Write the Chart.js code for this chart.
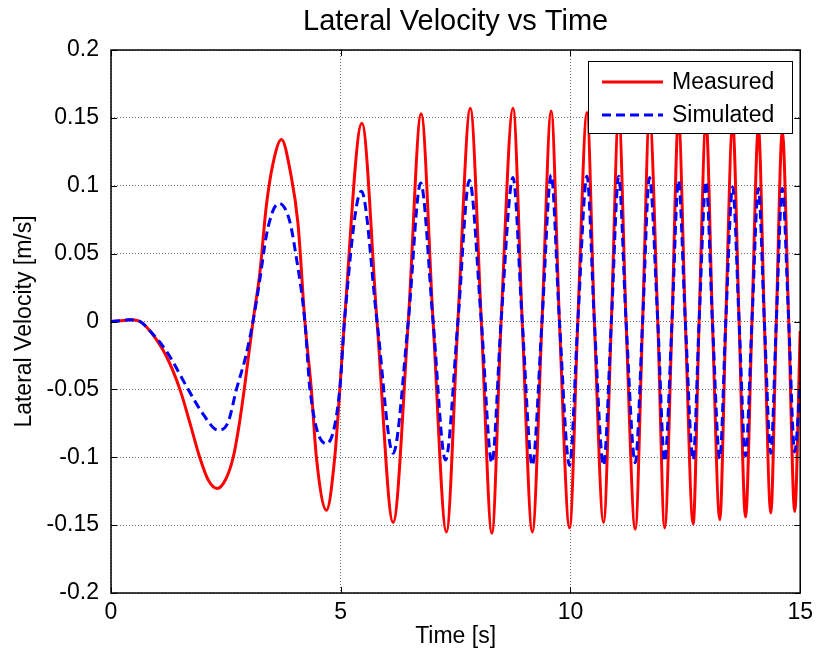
<!DOCTYPE html>
<html>
<head>
<meta charset="utf-8">
<title>Lateral Velocity vs Time</title>
<script src="https://cdn.jsdelivr.net/npm/chart.js@4/dist/chart.umd.min.js"></script>
<style>
  html, body { margin: 0; padding: 0; background: #fff; }
  #wrap { width: 819px; height: 666px; }
</style>
</head>
<body>
<div id="wrap"><canvas id="chart1" width="819" height="666"></canvas></div>
<script>
// Measured lateral velocity [m/s] over time [s]
var measuredTime = [0, 0.2, 0.4, 0.6, 0.85, 1.21, 1.5, 1.72, 1.93, 2.12, 2.31, 2.5, 2.66, 2.78, 2.9, 3.09,
  3.24, 3.38, 3.53, 3.71, 3.91, 4.07, 4.22, 4.36, 4.47, 4.69, 4.87, 4.98, 5.08, 5.46, 5.79, 6.14, 6.47, 6.75, 7.01,
  7.30, 7.55, 7.82, 8.06, 8.29, 8.49, 8.75, 8.95, 9.17, 9.38, 9.58, 9.76, 9.98, 10.16, 10.36, 10.52,
  10.72, 10.89, 11.05, 11.21, 11.41, 11.57, 11.72, 11.90, 12.05, 12.21, 12.35, 12.50, 12.67, 12.80,
  12.95, 13.09, 13.25, 13.38, 13.53, 13.67, 13.81, 13.95, 14.09, 14.22, 14.36, 14.48, 14.61, 14.75,
  14.88, 15.0];
var measuredVel = [0, 0.0005, 0.0012, 0.0005, -0.007, -0.026, -0.05, -0.075, -0.1, -0.117, -0.123, -0.116, -0.1, -0.078, -0.05, 0,
  0.036, 0.085, 0.117, 0.134, 0.109, 0.072, 0, -0.05, -0.1, -0.139, -0.1, -0.05, 0, 0.146, 0, -0.148, 0, 0.153, 0,
  -0.155, 0, 0.157, 0, -0.156, 0, 0.157, 0, -0.155, 0, 0.155, 0, -0.152, 0, 0.154, 0,
  -0.148, 0, 0.153, 0, -0.153, 0, 0.152, 0, -0.152, 0, 0.150, 0, -0.149, 0,
  0.148, 0, -0.146, 0, 0.146, 0, -0.144, 0, 0.143, 0, -0.141, 0, 0.140, 0,
  -0.140, -0.007];

// Simulated lateral velocity [m/s] over time [s]
var simulatedTime = [0, 0.2, 0.4, 0.6, 0.85, 1.21, 1.68, 2.0, 2.33, 2.55, 2.73, 2.93, 3.09,
  3.24, 3.38, 3.53, 3.66, 3.88, 4.02, 4.22, 4.33, 4.69, 4.98, 5.08, 5.45, 5.79, 6.14, 6.47, 6.74, 7.01,
  7.28, 7.55, 7.80, 8.06, 8.29, 8.49, 8.75, 8.95, 9.17, 9.38, 9.58, 9.76, 9.98, 10.16, 10.36, 10.52,
  10.72, 10.89, 11.05, 11.21, 11.41, 11.57, 11.72, 11.90, 12.05, 12.21, 12.35, 12.50, 12.67, 12.80,
  12.95, 13.09, 13.25, 13.38, 13.53, 13.67, 13.81, 13.95, 14.09, 14.22, 14.36, 14.48, 14.61, 14.75,
  14.88, 15.0];
var simulatedVel = [0, 0.0005, 0.0012, 0.0005, -0.007, -0.022, -0.05, -0.068, -0.080, -0.074, -0.05, -0.026, 0,
  0.031, 0.063, 0.082, 0.087, 0.075, 0.05, 0, -0.05, -0.090, -0.05, 0, 0.096, 0, -0.097, 0, 0.102, 0,
  -0.102, 0, 0.104, 0, -0.104, 0, 0.106, 0, -0.106, 0, 0.108, 0, -0.106, 0, 0.107, 0,
  -0.106, 0, 0.107, 0, -0.104, 0, 0.106, 0, -0.103, 0, 0.104, 0, -0.102, 0,
  0.103, 0, -0.101, 0, 0.099, 0, -0.099, 0, 0.098, 0, -0.097, 0, 0.098, 0,
  -0.096, -0.045];

var seriesNames = ["Measured", "Simulated"];
var xTickLabels = ["0", "5", "10", "15"];
var yTickLabels = ["-0.2", "-0.15", "-0.1", "-0.05", "0", "0.05", "0.1", "0.15", "0.2"];

var FONT = "'Liberation Sans', Arial, Helvetica, sans-serif";

function toPoints(xs, ys) {
  var pts = [];
  for (var i = 0; i < xs.length; i++) {
    pts.push({ x: xs[i], y: ys[i] });
  }
  return pts;
}

// axes box with inward ticks, plus the legend inside the plot
var framePlugin = {
  id: "frame",
  afterDatasetsDraw: function (chart) {
    var ctx = chart.ctx;
    var a = chart.chartArea;
    var xs = chart.scales.x;
    var ys = chart.scales.y;
    var tick = 6;
    ctx.save();
    ctx.strokeStyle = "#000";
    ctx.lineWidth = 1.5;
    ctx.strokeRect(a.left, a.top, a.right - a.left, a.bottom - a.top);
    ctx.lineWidth = 1;
    ctx.beginPath();
    xs.ticks.forEach(function (t) {
      var px = Math.round(xs.getPixelForValue(t.value)) + 0.5;
      ctx.moveTo(px, a.bottom); ctx.lineTo(px, a.bottom - tick);
      ctx.moveTo(px, a.top); ctx.lineTo(px, a.top + tick);
    });
    ys.ticks.forEach(function (t) {
      var py = Math.round(ys.getPixelForValue(t.value)) + 0.5;
      ctx.moveTo(a.left, py); ctx.lineTo(a.left + tick, py);
      ctx.moveTo(a.right, py); ctx.lineTo(a.right - tick, py);
    });
    ctx.stroke();

    // legend
    var bx = 588, by = 61, bw = 204, bh = 72;
    ctx.fillStyle = "#fff";
    ctx.fillRect(bx, by, bw, bh);
    ctx.strokeStyle = "#000";
    ctx.lineWidth = 1;
    ctx.strokeRect(bx + 0.5, by + 0.5, bw, bh);
    ctx.font = "23px " + FONT;
    ctx.textBaseline = "middle";
    ctx.textAlign = "left";
    chart.data.datasets.forEach(function (ds, i) {
      var rowY = by + 21 + i * 33;
      ctx.strokeStyle = ds.borderColor;
      ctx.lineWidth = ds.borderWidth;
      ctx.setLineDash(ds.borderDash || []);
      ctx.beginPath();
      ctx.moveTo(bx + 14, rowY);
      ctx.lineTo(bx + 75, rowY);
      ctx.stroke();
      ctx.setLineDash([]);
      ctx.fillStyle = "#000";
      ctx.fillText(ds.label, bx + 84, rowY + 1);
    });
    ctx.restore();
  }
};

var ctx = document.getElementById("chart1");
var chart = new Chart(ctx, {
  type: "line",
  data: {
    datasets: [
      {
        label: seriesNames[0],
        data: toPoints(measuredTime, measuredVel),
        borderColor: "#ff0000",
        borderWidth: 3,
        pointRadius: 0,
        cubicInterpolationMode: "monotone",
        order: 2
      },
      {
        label: seriesNames[1],
        data: toPoints(simulatedTime, simulatedVel),
        borderColor: "#0000ff",
        borderWidth: 3,
        borderDash: [9, 5],
        pointRadius: 0,
        cubicInterpolationMode: "monotone",
        order: 1
      }
    ]
  },
  options: {
    responsive: false,
    animation: false,
    layout: { padding: { left: 0, right: 18, top: 0, bottom: 0 } },
    plugins: {
      legend: { display: false },
      tooltip: { enabled: false },
      title: {
        display: true,
        fullSize: false,
        text: "Lateral Velocity vs Time",
        color: "#000",
        font: { family: FONT, size: 29, weight: "normal", lineHeight: 1.2 },
        padding: { top: 5, bottom: 10.2 }
      }
    },
    scales: {
      x: {
        type: "linear",
        min: 0,
        max: 15,
        ticks: {
          stepSize: 5,
          color: "#000",
          padding: 6,
          maxRotation: 0,
          font: { family: FONT, size: 23 },
          callback: function (value, index) { return xTickLabels[index]; }
        },
        grid: { color: "#6e6e6e", lineWidth: 1, drawTicks: false },
        border: { display: false, dash: [1, 2] },
        title: {
          display: true,
          text: "Time [s]",
          color: "#000",
          font: { family: FONT, size: 23 },
          padding: { top: 0, bottom: 16 }
        },
        afterFit: function (scale) { scale.height = 73; }
      },
      y: {
        type: "linear",
        min: -0.2,
        max: 0.2,
        ticks: {
          stepSize: 0.05,
          color: "#000",
          padding: 12,
          font: { family: FONT, size: 23 },
          callback: function (value, index) { return yTickLabels[index]; }
        },
        grid: { color: "#6e6e6e", lineWidth: 1, drawTicks: false },
        border: { display: false, dash: [1, 2] },
        title: {
          display: true,
          text: "Lateral Velocity [m/s]",
          color: "#000",
          font: { family: FONT, size: 23 },
          padding: { top: 11, bottom: 0 }
        },
        afterFit: function (scale) { scale.width = 111; }
      }
    }
  },
  plugins: [framePlugin]
});
</script>
</body>
</html>
